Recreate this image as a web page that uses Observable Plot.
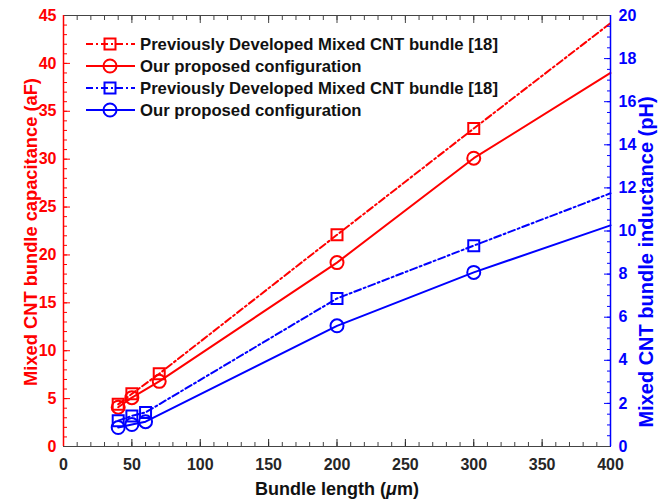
<!DOCTYPE html>
<html><head><meta charset="utf-8">
<script src="https://cdn.jsdelivr.net/npm/d3@7"></script>
<script src="https://cdn.jsdelivr.net/npm/@observablehq/plot@0.6"></script>
<style>
body{margin:0;background:#fff;}
#chart{position:relative;width:659px;height:499px;overflow:hidden;}
#chart svg{display:block;}
#legend{position:absolute;left:0;top:0;}
</style></head><body><div id="chart"></div>
<script>
// ---- data ----
const capLengths = [40, 50, 70, 200, 300, 400];
const capPrev    = [4.4, 5.5, 7.6, 22.1, 33.2, 44.2];
const capOurs    = [4.1, 5.1, 6.8, 19.2, 30.1, 39.0];
const indLengths = [40, 50, 60, 200, 300, 400];
const indPrev    = [1.2, 1.42, 1.58, 6.87, 9.32, 11.75];
const indOurs    = [0.88, 1.02, 1.15, 5.6, 8.08, 10.26];
const seriesNames = [
  "Previously Developed Mixed CNT bundle [18]",
  "Our proposed configuration",
  "Previously Developed Mixed CNT bundle [18]",
  "Our proposed configuration"
];
const xTicks = [0, 50, 100, 150, 200, 250, 300, 350, 400];
const capTicks = [0, 5, 10, 15, 20, 25, 30, 35, 40, 45];
const indTicks = [0, 2, 4, 6, 8, 10, 12, 14, 16, 18, 20];
const xLabel = "Bundle length (";
const capLabel = "Mixed CNT bundle capacitance (aF)";
const indLabel = "Mixed CNT bundle inductance (pH)";

const RED = "#ff0000", BLUE = "#0000ff";
const CAP_MAX = 45, IND_MAX = 20, K = CAP_MAX / IND_MAX;
const DASH = "7,3,2,3";

const styles = [
  {color: RED, dash: DASH, symbol: "square"},
  {color: RED, dash: null, symbol: "circle"},
  {color: BLUE, dash: DASH, symbol: "square"},
  {color: BLUE, dash: null, symbol: "circle"}
];
const series = [
  capLengths.map((x, i) => ({x, y: capPrev[i]})),
  capLengths.map((x, i) => ({x, y: capOurs[i]})),
  indLengths.map((x, i) => ({x, y: indPrev[i] * K})),
  indLengths.map((x, i) => ({x, y: indOurs[i] * K}))
];

const marks = [];
series.forEach((data, s) => {
  marks.push(Plot.line(data, {x: "x", y: "y", stroke: styles[s].color, strokeWidth: 2,
    strokeDasharray: styles[s].dash}));
});
series.forEach((data, s) => {
  marks.push(Plot.dot(data.filter(d => d.x < 400), {x: "x", y: "y", symbol: styles[s].symbol,
    r: styles[s].symbol === "square" ? 6.2 : 6.5, stroke: styles[s].color, fill: "none", strokeWidth: 2}));
});

const range = (a, b, s) => d3.range(a, b + s / 2, s);
const txt = {fontSize: 16, fontWeight: "bold"};

// bottom axis
marks.push(Plot.axisX(range(0, 400, 10), {anchor: "bottom", tickSize: -4, tickFormat: () => "", color: "#444", label: null}));
marks.push(Plot.axisX(xTicks, {anchor: "bottom", tickSize: -7, tickPadding: 19, color: "#262626", label: null, ...txt}));
// top axis (ticks only)
marks.push(Plot.axisX(range(0, 400, 10), {anchor: "top", tickSize: -4, tickFormat: () => "", color: "#444", label: null}));
marks.push(Plot.axisX(xTicks, {anchor: "top", tickSize: -7, tickFormat: () => "", color: "#444", label: null}));
// left axis
marks.push(Plot.axisY(range(0, 45, 1), {anchor: "left", tickSize: -4, tickFormat: () => "", color: RED, label: null}));
marks.push(Plot.axisY(capTicks, {anchor: "left", tickSize: -7, tickPadding: 14, color: RED, label: null, ...txt}));
// right axis (inductance mapped onto the same y scale)
marks.push(Plot.axisY(range(0, 20, 0.5).map(v => v * K), {anchor: "right", tickSize: -4, tickFormat: () => "", color: BLUE, label: null}));
marks.push(Plot.axisY(indTicks.map(v => v * K), {anchor: "right", tickSize: -7, tickPadding: 15, color: BLUE, label: null,
  tickFormat: d => String(Math.round(d / K)), ...txt}));
// frame lines
marks.push(Plot.ruleY([0, CAP_MAX], {stroke: "#444", strokeWidth: 1}));
marks.push(Plot.ruleX([0], {stroke: RED, strokeWidth: 1.5}));
marks.push(Plot.ruleX([400], {stroke: BLUE, strokeWidth: 1.5}));

const chart = Plot.plot({
  width: 659, height: 499,
  marginLeft: 63, marginRight: 49, marginTop: 15, marginBottom: 53,
  x: {domain: [0, 400], axis: null},
  y: {domain: [0, CAP_MAX], axis: null},
  style: {fontFamily: "'Liberation Sans', Arial, sans-serif", fontSize: "16px", background: "#fff", overflow: "visible"},
  marks
});
document.getElementById("chart").appendChild(chart);

// axis titles
const svg = d3.select(chart);
const F = "'Liberation Sans', Arial, sans-serif";
const xt = svg.append("text").attr("x", 337).attr("y", 495).attr("text-anchor", "middle")
  .attr("font-family", F).attr("font-size", 18).attr("font-weight", "bold").attr("fill", "#111");
xt.append("tspan").text(xLabel);
xt.append("tspan").attr("font-style", "italic").text("\u03bc");
xt.append("tspan").text("m)");
svg.append("text").attr("transform", "translate(37,232) rotate(-90)").attr("text-anchor", "middle")
  .attr("font-family", F).attr("font-size", 18.3).attr("font-weight", "bold").attr("fill", RED).text(capLabel);
svg.append("text").attr("transform", "translate(653,262) rotate(-90)").attr("text-anchor", "middle")
  .attr("font-family", F).attr("font-size", 20).attr("font-weight", "bold").attr("fill", BLUE).text(indLabel);

// legend
const lg = d3.select("#chart").append("svg").attr("id", "legend").attr("width", 659).attr("height", 130);
const rowY = [44, 66, 88, 110];
seriesNames.forEach((name, i) => {
  const st = styles[i], y = rowY[i];
  lg.append("line").attr("x1", 86).attr("x2", 135).attr("y1", y).attr("y2", y)
    .attr("stroke", st.color).attr("stroke-width", 2).attr("stroke-dasharray", st.dash);
  const r = st.symbol === "square" ? 6.2 : 6.5;
  lg.append("path").attr("transform", `translate(110,${y})`)
    .attr("d", d3.symbol(st.symbol === "square" ? d3.symbolSquare : d3.symbolCircle, r * r * Math.PI)())
    .attr("fill", "none").attr("stroke", st.color).attr("stroke-width", 2);
  lg.append("text").attr("x", 140).attr("y", y).attr("dy", "0.35em")
    .attr("font-family", F).attr("font-size", 16.7).attr("font-weight", "bold").attr("fill", "#111").text(name);
});
</script></body></html>
